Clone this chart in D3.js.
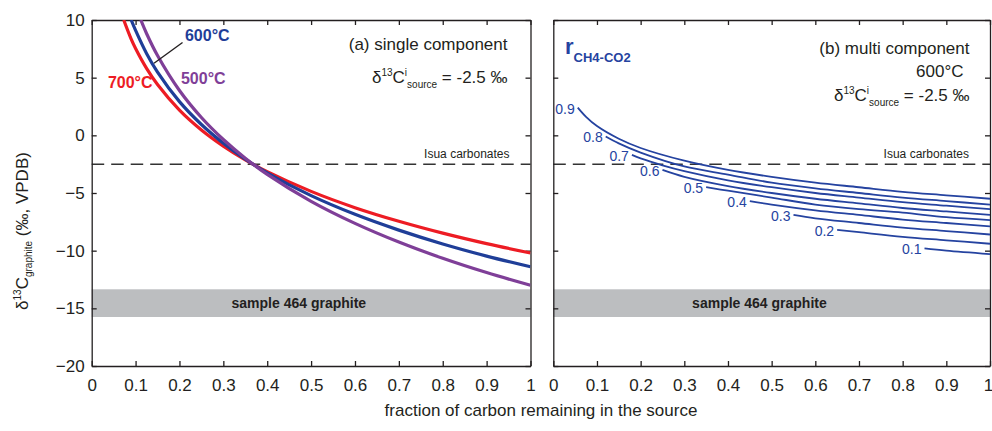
<!DOCTYPE html>
<html>
<head>
<meta charset="utf-8">
<script src="https://cdn.jsdelivr.net/npm/d3@7"></script>
<style>
  body { margin: 0; background: #fff; }
  svg { display: block; font-family: "Liberation Sans", Arial, sans-serif; }
  .axis path, .axis line { stroke: #231f20; stroke-width: 1.3px; }
  .axis text { font-size: 17px; fill: #231f20; font-family: "Liberation Sans", Arial, sans-serif; }
</style>
</head>
<body>
<div id="chart"></div>
<script>
// ticks
var xTicks = [0, 0.1, 0.2, 0.3, 0.4, 0.5, 0.6, 0.7, 0.8, 0.9, 1];
var yTicks = [-20, -15, -10, -5, 0, 5, 10];

// reference lines
var isuaValue = -2.5;
var graphiteBand = [-15.75, -13.35];

// (a) single component, [fraction, d13C]
var curve700 = [[0.073,10],[0.09,8.34],[0.1,7.53],[0.125,5.81],[0.15,4.41],[0.2,2.19],[0.25,0.47],[0.3,-0.93],[0.35,-2.12],[0.4,-3.15],[0.5,-4.86],[0.6,-6.27],[0.7,-7.45],[0.8,-8.48],[0.9,-9.39],[1,-10.2]];
var curve600 = [[0.09,10],[0.1,9.1],[0.125,7.1],[0.15,5.48],[0.2,2.92],[0.25,0.94],[0.3,-0.68],[0.35,-2.06],[0.4,-3.25],[0.5,-5.23],[0.6,-6.85],[0.7,-8.22],[0.8,-9.42],[0.9,-10.47],[1,-11.4]];
var curve500 = [[0.112,10],[0.125,8.83],[0.15,6.92],[0.2,3.89],[0.25,1.55],[0.3,-0.36],[0.35,-1.98],[0.4,-3.38],[0.5,-5.72],[0.6,-7.63],[0.7,-9.25],[0.8,-10.66],[0.9,-11.9],[1,-13.0]];
var tempLabels = ['700°C', '600°C', '500°C'];
var tempColors = ['#ed1c24', '#1f3e98', '#7f3f98'];

// (b) multi component, one curve per r CH4-CO2
var rValues = ['0.9', '0.8', '0.7', '0.6', '0.5', '0.4', '0.3', '0.2', '0.1'];
var r09 = [[0.056,2.4],[0.075,1.6],[0.1,0.8],[0.15,-0.3],[0.2,-1.1],[0.3,-2.2],[0.4,-3.0],[0.5,-3.6],[0.6,-4.1],[0.7,-4.5],[0.8,-4.9],[0.9,-5.2],[1,-5.5]];
var r08 = [[0.12,-0.1],[0.15,-0.7],[0.2,-1.5],[0.3,-2.7],[0.4,-3.4],[0.5,-4.1],[0.6,-4.6],[0.7,-5.0],[0.8,-5.4],[0.9,-5.7],[1,-6.0]];
var r07 = [[0.18,-1.7],[0.2,-2.0],[0.25,-2.6],[0.3,-3.1],[0.4,-3.9],[0.5,-4.5],[0.6,-5.0],[0.7,-5.4],[0.8,-5.8],[0.9,-6.1],[1,-6.4]];
var r06 = [[0.25,-3.0],[0.3,-3.6],[0.4,-4.4],[0.5,-5.0],[0.6,-5.5],[0.7,-5.9],[0.8,-6.3],[0.9,-6.6],[1,-6.9]];
var r05 = [[0.35,-4.5],[0.4,-4.8],[0.5,-5.4],[0.6,-6.0],[0.7,-6.4],[0.8,-6.7],[0.9,-7.1],[1,-7.35]];
var r04 = [[0.45,-5.7],[0.5,-6.0],[0.6,-6.5],[0.7,-6.9],[0.8,-7.3],[0.9,-7.6],[1,-7.9]];
var r03 = [[0.55,-6.9],[0.6,-7.2],[0.7,-7.6],[0.8,-8.0],[0.9,-8.3],[1,-8.6]];
var r02 = [[0.65,-8.2],[0.7,-8.4],[0.8,-8.8],[0.9,-9.1],[1,-9.4]];
var r01 = [[0.85,-9.8],[0.9,-10.0],[1,-10.3]];

var singleCurves = [curve700, curve600, curve500];
var multiCurves = [r09, r08, r07, r06, r05, r04, r03, r02, r01];

var width = 992, height = 431;
var top_ = 20, bottom = 366;
var ink = '#231f20', blue = '#2543a0';

var svg = d3.select('#chart').append('svg')
  .attr('width', width)
  .attr('height', height);

var y = d3.scaleLinear().domain([-20, 10]).range([bottom, top_]);

// draws one panel box with axes, returns x scale and group
function makePanel(left, right, id, showY) {
  var x = d3.scaleLinear().domain([0, 1]).range([left, right]);
  var g = svg.append('g');

  g.append('clipPath').attr('id', id)
    .append('rect')
    .attr('x', left).attr('y', top_)
    .attr('width', right - left).attr('height', bottom - top_);

  // grey band for the sample
  g.append('rect')
    .attr('x', left)
    .attr('y', y(graphiteBand[1]))
    .attr('width', right - left)
    .attr('height', y(graphiteBand[0]) - y(graphiteBand[1]))
    .attr('fill', '#bcbec0');

  g.append('text')
    .attr('x', x(0.472))
    .attr('y', y(d3.mean(graphiteBand)))
    .attr('dy', '0.35em')
    .attr('text-anchor', 'middle')
    .attr('font-size', 14)
    .attr('font-weight', 'bold')
    .attr('fill', ink)
    .text('sample 464 graphite');

  // Isua dashed line
  g.append('line')
    .attr('x1', left).attr('x2', right)
    .attr('y1', y(isuaValue)).attr('y2', y(isuaValue))
    .attr('stroke', '#333')
    .attr('stroke-width', 1.5)
    .attr('stroke-dasharray', '12.5,7');

  g.append('text')
    .attr('x', right - 21)
    .attr('y', y(isuaValue) - 6)
    .attr('text-anchor', 'end')
    .attr('font-size', 12)
    .attr('fill', ink)
    .text('Isua carbonates');

  // axes, ticks inward on all sides
  var xb = g.append('g').attr('class', 'axis')
    .attr('transform', 'translate(0,' + bottom + ')')
    .call(d3.axisBottom(x).tickValues(xTicks).tickSizeInner(-5).tickSizeOuter(0).tickPadding(13)
      .tickFormat(function(d) { return d3.format('')(d); }));
  xb.selectAll('text').attr('dy', '0.71em');
  // last label sits at the window edge
  xb.selectAll('text').filter(function(d) { return d === 1 && right > 980; }).attr('dx', -2);

  g.append('g').attr('class', 'axis')
    .attr('transform', 'translate(0,' + top_ + ')')
    .call(d3.axisTop(x).tickValues(xTicks).tickSizeInner(-5).tickSizeOuter(0).tickFormat(''));

  g.append('g').attr('class', 'axis')
    .attr('transform', 'translate(' + left + ',0)')
    .call(d3.axisLeft(y).tickValues(yTicks).tickSizeInner(-5).tickSizeOuter(0).tickPadding(7)
      .tickFormat(showY ? d3.format('') : ''));

  g.append('g').attr('class', 'axis')
    .attr('transform', 'translate(' + right + ',0)')
    .call(d3.axisRight(y).tickValues(yTicks).tickSizeInner(-5).tickSizeOuter(0).tickFormat(''));

  svg.selectAll('.axis .domain').attr('stroke-width', 1.5);
  return { x: x, g: g };
}

// small helper for delta 13C source text
function deltaSource(g, xr, yb) {
  var t = g.append('text')
    .attr('x', xr).attr('y', yb)
    .attr('text-anchor', 'end')
    .attr('font-size', 17)
    .attr('fill', ink);
  t.append('tspan').text('δ');
  t.append('tspan').attr('font-size', 10).attr('dy', -7).text('13');
  t.append('tspan').attr('dy', 7).text('C');
  t.append('tspan').attr('font-size', 10).attr('dy', -7).text('i');
  t.append('tspan').attr('font-size', 10).attr('dy', 12).text('source');
  t.append('tspan').attr('dy', -5).text(' = -2.5 ‰');
}

var line = function(x) {
  return d3.line()
    .x(function(d) { return x(d[0]); })
    .y(function(d) { return y(d[1]); })
    .curve(d3.curveCatmullRom.alpha(0.5));
};

// ---- panel (a)
var pa = makePanel(91.7, 530.5, 'clipA', true);

pa.g.append('g').attr('clip-path', 'url(#clipA)')
  .selectAll('path')
  .data(singleCurves)
  .enter()
  .append('path')
  .attr('d', line(pa.x))
  .attr('fill', 'none')
  .attr('stroke', function(d, i) { return tempColors[i]; })
  .attr('stroke-width', 3.2);

// leader line for 600
pa.g.append('line')
  .attr('x1', pa.x(0.142)).attr('y1', y(6.25))
  .attr('x2', pa.x(0.207)).attr('y2', y(8.05))
  .attr('stroke', ink).attr('stroke-width', 1.3);

var tempPos = [[0.037, 4.62], [0.2125, 8.7], [0.2034, 4.9]];
pa.g.selectAll('.temp')
  .data(tempLabels)
  .enter()
  .append('text')
  .attr('class', 'temp')
  .attr('x', function(d, i) { return pa.x(tempPos[i][0]); })
  .attr('y', function(d, i) { return y(tempPos[i][1]); })
  .attr('dy', '0.35em')
  .attr('font-size', 16)
  .attr('font-weight', 'bold')
  .attr('fill', function(d, i) { return tempColors[i]; })
  .text(function(d) { return d; });

pa.g.append('text')
  .attr('x', 507.5).attr('y', 49.5)
  .attr('text-anchor', 'end')
  .attr('font-size', 17)
  .attr('fill', ink)
  .text('(a) single component');
deltaSource(pa.g, 507.5, 83);

// ---- panel (b)
var pb = makePanel(553.3, 990, 'clipB', false);

pb.g.append('g').attr('clip-path', 'url(#clipB)')
  .selectAll('path')
  .data(multiCurves)
  .enter()
  .append('path')
  .attr('d', line(pb.x))
  .attr('fill', 'none')
  .attr('stroke', blue)
  .attr('stroke-width', 1.8);

pb.g.selectAll('.rlab')
  .data(multiCurves)
  .enter()
  .append('text')
  .attr('class', 'rlab')
  .attr('x', function(d) { return pb.x(d[0][0]) - 3; })
  .attr('y', function(d) { return y(d[0][1]) + 1; })
  .attr('dy', '0.35em')
  .attr('text-anchor', 'end')
  .attr('font-size', 14)
  .attr('fill', blue)
  .text(function(d, i) { return rValues[i]; });

var rt = pb.g.append('text')
  .attr('x', 565).attr('y', 53.5)
  .attr('font-weight', 'bold')
  .attr('fill', blue);
rt.append('tspan').attr('font-size', 22).text('r');
rt.append('tspan').attr('font-size', 13).attr('dy', 8).text('CH4-CO2');

pb.g.append('text')
  .attr('x', 969.5).attr('y', 53.5)
  .attr('text-anchor', 'end')
  .attr('font-size', 17)
  .attr('fill', ink)
  .text('(b) multi component');
pb.g.append('text')
  .attr('x', 963.5).attr('y', 77)
  .attr('text-anchor', 'end')
  .attr('font-size', 17)
  .attr('fill', ink)
  .text('600°C');
deltaSource(pb.g, 969.5, 101);

// axis titles
svg.append('text')
  .attr('x', 541).attr('y', 416)
  .attr('text-anchor', 'middle')
  .attr('font-size', 17)
  .attr('fill', ink)
  .text('fraction of carbon remaining in the source');

var yt = svg.append('text')
  .attr('transform', 'translate(28,231) rotate(-90)')
  .attr('text-anchor', 'middle')
  .attr('font-size', 17)
  .attr('fill', ink);
yt.append('tspan').text('δ');
yt.append('tspan').attr('font-size', 10).attr('dy', -7).text('13');
yt.append('tspan').attr('dy', 7).text('C');
yt.append('tspan').attr('font-size', 10).attr('dy', 4).text('graphite');
yt.append('tspan').attr('dy', -4).text(' (‰, VPDB)');
</script>
</body>
</html>
